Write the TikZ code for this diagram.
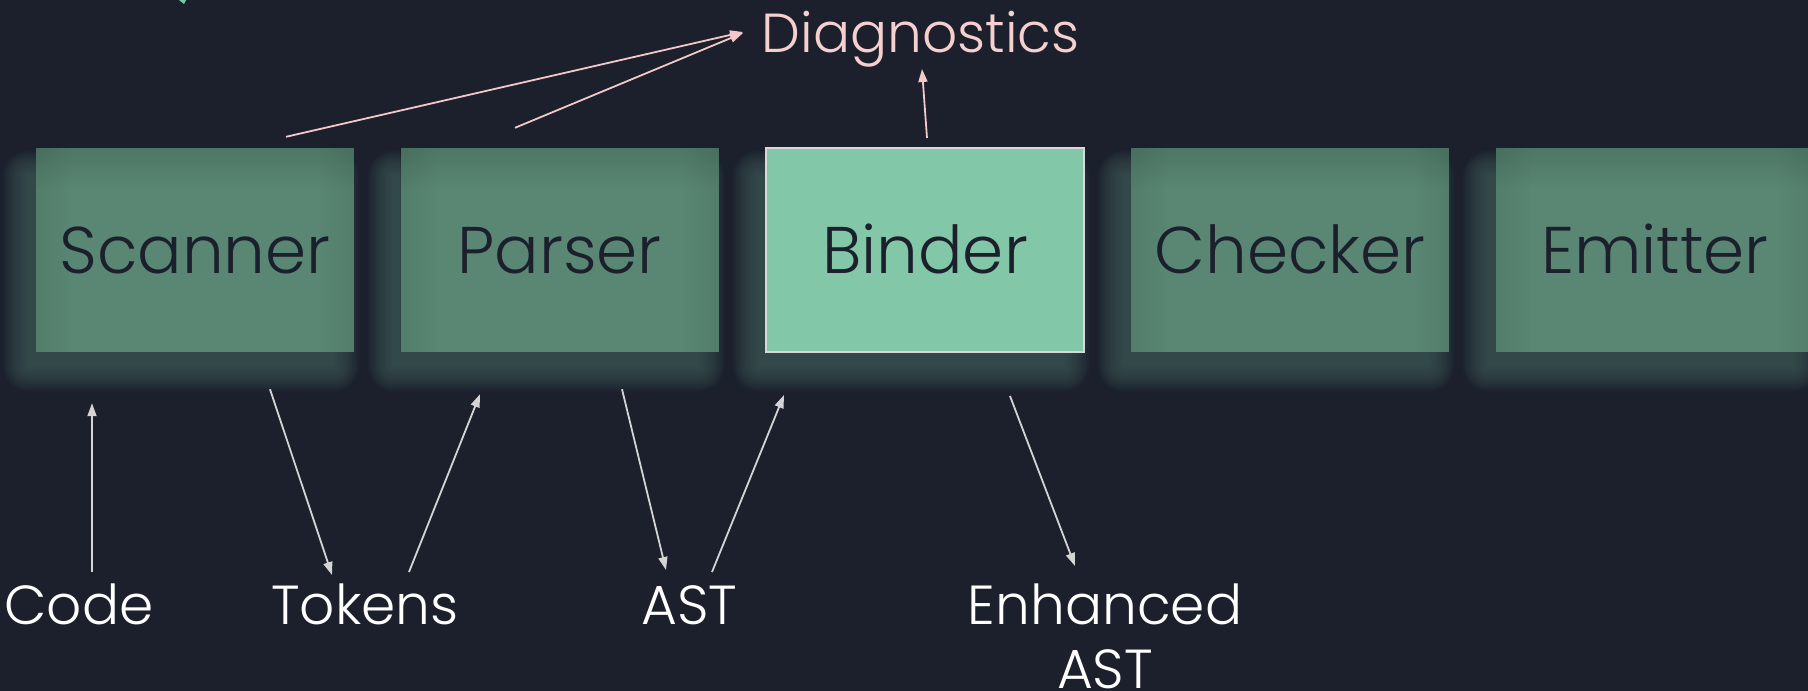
\documentclass[tikz,border=0pt]{standalone}
\usepackage{fontspec}
\IfFontExistsTF{Poppins Light}{\setmainfont{Poppins Light}}{\setmainfont{Poppins}}
\usetikzlibrary{arrows.meta,calc,fadings}

\definecolor{bg}{HTML}{1B202C}
\definecolor{boxfill}{HTML}{598773}
\definecolor{boxhi}{HTML}{82C7A7}
\definecolor{boxedge}{HTML}{D8D8D8}
\definecolor{glow}{HTML}{47645F}
\definecolor{ink}{HTML}{1B202C}
\definecolor{pinkline}{HTML}{F4C8C8}
\definecolor{diagtext}{HTML}{F6CFCF}
\definecolor{greyline}{HTML}{D4D4D4}
\definecolor{accent}{HTML}{6FCF9F}

\tikzfading[name=vigtop, top color=transparent!0, bottom color=transparent!100]
\tikzfading[name=vigleft, left color=transparent!0, right color=transparent!100]
\tikzfading[name=vigright, left color=transparent!100, right color=transparent!0]

\begin{document}
\begin{tikzpicture}[x=1pt, y=-1pt,
  stage/.style={minimum width=318pt, minimum height=204pt, inner sep=0pt,
    fill=boxfill, text=ink, font=\fontsize{66}{66}\selectfont,
    text height=46pt, text depth=0pt},
  active/.style={fill=boxhi, draw=boxedge, line width=2pt},
  datalabel/.style={text=white, font=\fontsize{55}{64}\selectfont,
    inner sep=0pt, anchor=base, align=center},
  flow/.style={draw=greyline, line width=1.8pt,
    -{Triangle[length=13pt, width=9pt]}},
  report/.style={draw=pinkline, line width=1.8pt,
    -{Triangle[length=13pt, width=9pt]}}
]
% canvas
\fill[bg] (0,0) rectangle (1808,691);
\useasboundingbox (0,0) rectangle (1808,691);
\clip (0,0) rectangle (1808,691);

% soft glow behind every stage, pushed left and down
\foreach \bx in {36,401,766,1131,1496}{
  \foreach \k in {0,...,15}{
    \pgfmathsetmacro\grow{\k*1.7}
    \pgfmathsetmacro\rad{\k*1.7+0.5}
    \fill[glow, opacity=0.065, rounded corners=\rad pt]
      ({\bx-8-\grow},{176-\grow}) rectangle ({\bx+298+\grow},{366+\grow});
  }
}

% the compiler stages
\node[stage] (scanner) at (195,250) {Scanner};
\node[stage] (parser)  at (559.5,250) {Parser};
\node[stage, active] (binder) at (925,250) {Binder};
\node[stage] (checker) at (1290,250) {Checker};
\node[stage] (emitter) at (1655,250) {Emitter};

% inner shading along the edges of the muted stages
\foreach \n in {scanner,parser,checker,emitter}{
  \fill[black, fill opacity=0.12, path fading=vigtop]
    (\n.north west) rectangle ([yshift=-40pt]\n.north east);
  \fill[black, fill opacity=0.07, path fading=vigleft]
    (\n.north west) rectangle ([xshift=36pt]\n.south west);
  \fill[black, fill opacity=0.07, path fading=vigright]
    ([xshift=-36pt]\n.north east) rectangle (\n.south east);
}

% data passed between the stages
\node[datalabel] (code)   at (79,624)    {Code};
\node[datalabel] (tokens) at (365,624)   {Tokens};
\node[datalabel] (ast)    at (689.5,624) {AST};
\node[datalabel] (enh)    at (1105,688)  {Enhanced\\AST};
\node[datalabel, text=diagtext] (diag) at (920.5,52) {Diagnostics};

% small accent tip at the top edge
\fill[accent] (179,0) -- (186,0) -- (184,4) -- cycle;

% connector end points
\coordinate (codeUp)    at ($(code.base)+(13,-52)$);
\coordinate (scanIn)    at ($(scanner.south)+(-103,51)$);
\coordinate (scanOut)   at ($(scanner.south)+(75,37)$);
\coordinate (tokIn)     at ($(tokens.base)+(-33,-49)$);
\coordinate (tokUp)     at ($(tokens.base)+(44,-52)$);
\coordinate (parseIn)   at ($(parser.south)+(-79.5,42)$);
\coordinate (parseOut)  at ($(parser.south)+(62.5,37)$);
\coordinate (astIn)     at ($(ast.base)+(-23.5,-54)$);
\coordinate (astUp)     at ($(ast.base)+(22.5,-52)$);
\coordinate (bindIn)    at ($(binder.south)+(-141,42)$);
\coordinate (bindOut)   at ($(binder.south)+(85,43)$);
\coordinate (enhIn)     at ($(enh.base)+(-30,-122)$);
\coordinate (scanDiag)  at ($(scanner.north)+(91,-11)$);
\coordinate (parseDiag) at ($(parser.north)+(-44.5,-20)$);
\coordinate (bindDiag)  at ($(binder.north)+(2,-9)$);
\coordinate (diagA)     at ($(diag.base)+(-177.5,-20)$);
\coordinate (diagB)     at ($(diag.base)+(-177.5,-19)$);
\coordinate (diagC)     at ($(diag.base)+(1.5,17)$);

% pipeline flow
\draw[flow] (codeUp) -- (scanIn);
\draw[flow] (scanOut) -- (tokIn);
\draw[flow] (tokUp) -- (parseIn);
\draw[flow] (parseOut) -- (astIn);
\draw[flow] (astUp) -- (bindIn);
\draw[flow] (bindOut) -- (enhIn);

% error reporting
\draw[report] (scanDiag) -- (diagA);
\draw[report] (parseDiag) -- (diagB);
\draw[report] (bindDiag) -- (diagC);
\end{tikzpicture}
\end{document}
